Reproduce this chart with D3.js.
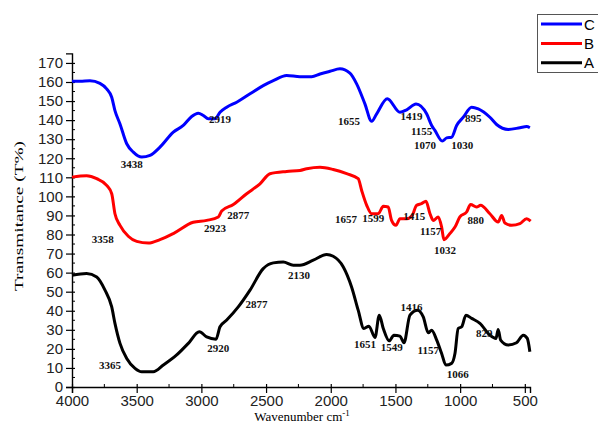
<!DOCTYPE html>
<html>
<head>
<meta charset="utf-8">
<script src="https://cdn.jsdelivr.net/npm/d3@7"></script>
<style>
  body { margin: 0; background: #fff; }
  svg { display: block; }
</style>
</head>
<body>
<svg id="chart" width="598" height="432"></svg>
<script>
;(function (d3) {
  // sample C (blue)
  var cWave = [4000, 3938, 3861, 3784, 3732, 3693, 3668, 3629, 3577, 3526, 3461, 3397, 3320, 3217, 3140, 3075, 3024, 2985, 2947, 2895, 2856, 2804, 2727, 2624, 2522, 2444, 2341, 2238, 2148, 2083, 2006, 1929, 1852, 1800, 1736, 1684, 1645, 1563, 1465, 1413, 1341, 1259, 1220, 1195, 1138, 1104, 1066, 1027, 976, 911, 860, 770, 718, 628, 538, 486, 461]
  var cT = [160.4, 160.4, 160.7, 159.3, 156.4, 152, 145, 138, 127.6, 123.2, 120.6, 121.5, 125.8, 133.7, 137.2, 141.9, 143.6, 142.4, 140.7, 140.7, 144.1, 146.8, 149.4, 153.8, 158.1, 160.7, 163.4, 162.8, 162.8, 164.2, 165.6, 166.9, 164.6, 159, 148.5, 139.4, 143.3, 151.2, 144.1, 145.4, 148.5, 143.3, 137.2, 134.6, 129, 130.7, 131, 137.2, 141.5, 146.8, 145.9, 141.5, 137.7, 135.1, 136, 136.6, 136]

  // sample B (red)
  var bWave = [4000, 3887, 3809, 3732, 3693, 3668, 3629, 3565, 3500, 3410, 3320, 3217, 3063, 2959, 2869, 2843, 2753, 2650, 2547, 2470, 2341, 2238, 2186, 2083, 1981, 1877, 1788, 1761, 1722, 1684, 1633, 1594, 1556, 1530, 1496, 1465, 1413, 1375, 1336, 1298, 1264, 1233, 1208, 1169, 1143, 1125, 1079, 1040, 1002, 950, 919, 873, 842, 770, 706, 679, 654, 602, 538, 486, 455]
  var bT = [110.1, 110.8, 109.3, 105.8, 101.4, 90.9, 84.8, 79.1, 76.4, 75.5, 77.3, 80.5, 86.4, 87.4, 89.2, 92.3, 95.7, 101.4, 106.6, 111.9, 113.1, 113.6, 114.5, 115.3, 114.1, 111.9, 109.3, 103.1, 95.3, 90.9, 90.9, 94.8, 94.4, 87.4, 84.8, 88.3, 88.3, 89.5, 95.3, 96.2, 97.4, 90.9, 87.4, 89.2, 83.9, 77.3, 80.5, 83.9, 89.2, 91.8, 95.7, 94.4, 95.3, 90.9, 86.5, 90, 86, 84.8, 85.7, 88.3, 87]

  // sample A (black)
  var aWave = [4000, 3887, 3809, 3745, 3693, 3668, 3629, 3577, 3513, 3461, 3372, 3294, 3191, 3101, 3016, 2959, 2887, 2856, 2804, 2715, 2624, 2522, 2444, 2367, 2290, 2238, 2135, 2032, 1981, 1903, 1839, 1788, 1744, 1705, 1658, 1625, 1594, 1548, 1512, 1465, 1434, 1388, 1329, 1285, 1246, 1220, 1181, 1143, 1110, 1066, 1040, 1015, 988, 955, 911, 847, 770, 723, 706, 687, 628, 564, 512, 481, 461]
  var aT = [58.6, 59.5, 57.7, 50.8, 42, 33.4, 22.9, 15, 9.8, 8, 8, 11.5, 16.8, 22.9, 29, 26.3, 25.1, 31.6, 35.1, 42, 50.8, 62.1, 65.1, 65.6, 63.9, 63.9, 66.5, 69.5, 68.6, 63, 52.5, 40.3, 30.7, 31.9, 26, 37.7, 30.7, 24.2, 27.2, 26.7, 23.2, 37.7, 40.3, 36.8, 28.4, 29.8, 24.6, 17.6, 11.5, 12.4, 17.6, 30.7, 31.6, 37.7, 36, 33.4, 27.2, 25.5, 30.2, 24.6, 22, 23.2, 27.2, 25.5, 18.5]

  // peak labels: [wavenumber, T, text]
  var cPeaks = [[3539, 117.1, '3438'], [2856, 140.7, '2919'], [1859, 139.3, '1655'], [1375, 142.4, '1419'], [1298, 134.4, '1155'], [1272, 126.7, '1070'], [984, 126.7, '1030'], [899, 141, '895']]
  var bPeaks = [[3763, 77.5, '3358'], [2895, 83.4, '2923'], [2715, 90.1, '2877'], [1883, 88.3, '1657'], [1672, 88.6, '1599'], [1355, 89.7, '1415'], [1228, 82, '1157'], [1117, 72.1, '1032'], [880, 87.4, '880']]
  var aPeaks = [[3706, 11.5, '3365'], [2869, 20.6, '2920'], [2573, 43.3, '2877'], [2246, 58.9, '2130'], [1736, 22.5, '1651'], [1529, 21.1, '1549'], [1375, 42, '1416'], [1246, 19.4, '1157'], [1019, 6.8, '1066'], [814, 28.1, '829']]

  var seriesNames = ['C', 'B', 'A']
  var seriesColors = ['#0000ff', '#ff0000', '#000000']

  var xTicks = [4000, 3500, 3000, 2500, 2000, 1500, 1000, 500]
  var yTicks = d3.range(0, 171, 10)

  var svg = d3.select('#chart')

  var x = d3.scaleLinear().domain([4000, 460]).range([72, 530])
  var y = d3.scaleLinear().domain([0, 175]).range([387, 53.4])

  // axes
  var xAxis = svg.append('g').attr('transform', 'translate(0,387)')
  xAxis.call(d3.axisBottom(x).tickValues(xTicks).tickSize(6).tickPadding(2).tickFormat(d3.format('d')))
  xAxis.selectAll('.tick line').attr('y1', -3)
  xAxis.selectAll('.minor')
    .data(d3.range(3750, 459, -500))
    .enter()
    .append('line')
    .attr('class', 'minor')
    .attr('x1', function (d) { return x(d) })
    .attr('x2', function (d) { return x(d) })
    .attr('y1', -3)
    .attr('y2', 0)
    .attr('stroke', '#000')

  var yAxis = svg.append('g').attr('transform', 'translate(72,0)')
  yAxis.call(d3.axisLeft(y).tickValues(yTicks).tickSize(6).tickPadding(3))
  yAxis.selectAll('.tick line').attr('x1', 3)
  yAxis.selectAll('.minor')
    .data(d3.range(5, 175, 10))
    .enter()
    .append('line')
    .attr('class', 'minor')
    .attr('x1', 0)
    .attr('x2', 3)
    .attr('y1', function (d) { return y(d) })
    .attr('y2', function (d) { return y(d) })
    .attr('stroke', '#000')

  svg.selectAll('.domain').attr('stroke', '#000').attr('stroke-width', 1.4)
  svg.selectAll('.tick line').attr('stroke-width', 1.2)
  svg.selectAll('.tick text')
    .attr('font-family', 'Liberation Sans, Arial, sans-serif')
    .attr('font-size', 15)
    .attr('fill', '#222')

  // axis titles
  var xt = svg.append('text')
    .attr('x', 302)
    .attr('y', 421)
    .attr('text-anchor', 'middle')
    .attr('font-family', 'Liberation Serif, Times New Roman, serif')
    .attr('font-size', 13)
  xt.append('tspan').text('Wavenumber cm')
  xt.append('tspan').attr('dy', -5).attr('font-size', 9).text('-1')

  svg.append('text')
    .attr('transform', 'translate(23,216) rotate(-90)')
    .attr('text-anchor', 'middle')
    .attr('font-family', 'Liberation Serif, Times New Roman, serif')
    .attr('font-size', 13)
    .attr('textLength', 150)
    .attr('lengthAdjust', 'spacingAndGlyphs')
    .text('Transmitance (T%)')

  // curves
  var line = d3.line()
    .x(function (d) { return x(d[0]) })
    .y(function (d) { return y(d[1]) })
    .curve(d3.curveMonotoneX)

  var series = [d3.zip(cWave, cT), d3.zip(bWave, bT), d3.zip(aWave, aT)]

  svg.selectAll('path.spec')
    .data(series)
    .enter()
    .append('path')
    .attr('class', 'spec')
    .attr('d', line)
    .attr('fill', 'none')
    .attr('stroke', function (d, i) { return seriesColors[i] })
    .attr('stroke-width', 3)
    .attr('stroke-linejoin', 'round')

  // peak labels
  var peaks = cPeaks.concat(bPeaks, aPeaks)
  svg.selectAll('text.peak')
    .data(peaks)
    .enter()
    .append('text')
    .attr('class', 'peak')
    .attr('x', function (d) { return x(d[0]) })
    .attr('y', function (d) { return y(d[1]) + 4 })
    .attr('text-anchor', 'middle')
    .attr('font-family', 'Liberation Serif, Times New Roman, serif')
    .attr('font-weight', 'bold')
    .attr('font-size', 11)
    .attr('fill', '#111')
    .text(function (d) { return d[2] })

  // legend
  var legend = svg.append('g')
  legend.append('rect')
    .attr('x', 537.5)
    .attr('y', 14.5)
    .attr('width', 80)
    .attr('height', 58)
    .attr('fill', '#fff')
    .attr('stroke', '#555')
    .attr('stroke-width', 1)

  var items = legend.selectAll('g.item')
    .data(seriesNames)
    .enter()
    .append('g')
    .attr('class', 'item')
    .attr('transform', function (d, i) { return 'translate(0,' + (24 + i * 19.4) + ')' })

  items.append('line')
    .attr('x1', 541)
    .attr('x2', 582)
    .attr('stroke', function (d, i) { return seriesColors[i] })
    .attr('stroke-width', 3)

  items.append('text')
    .attr('x', 584)
    .attr('y', 5.5)
    .attr('font-family', 'Liberation Sans, Arial, sans-serif')
    .attr('font-size', 15)
    .text(function (d) { return d })
})(window.d3)
</script>
</body>
</html>
